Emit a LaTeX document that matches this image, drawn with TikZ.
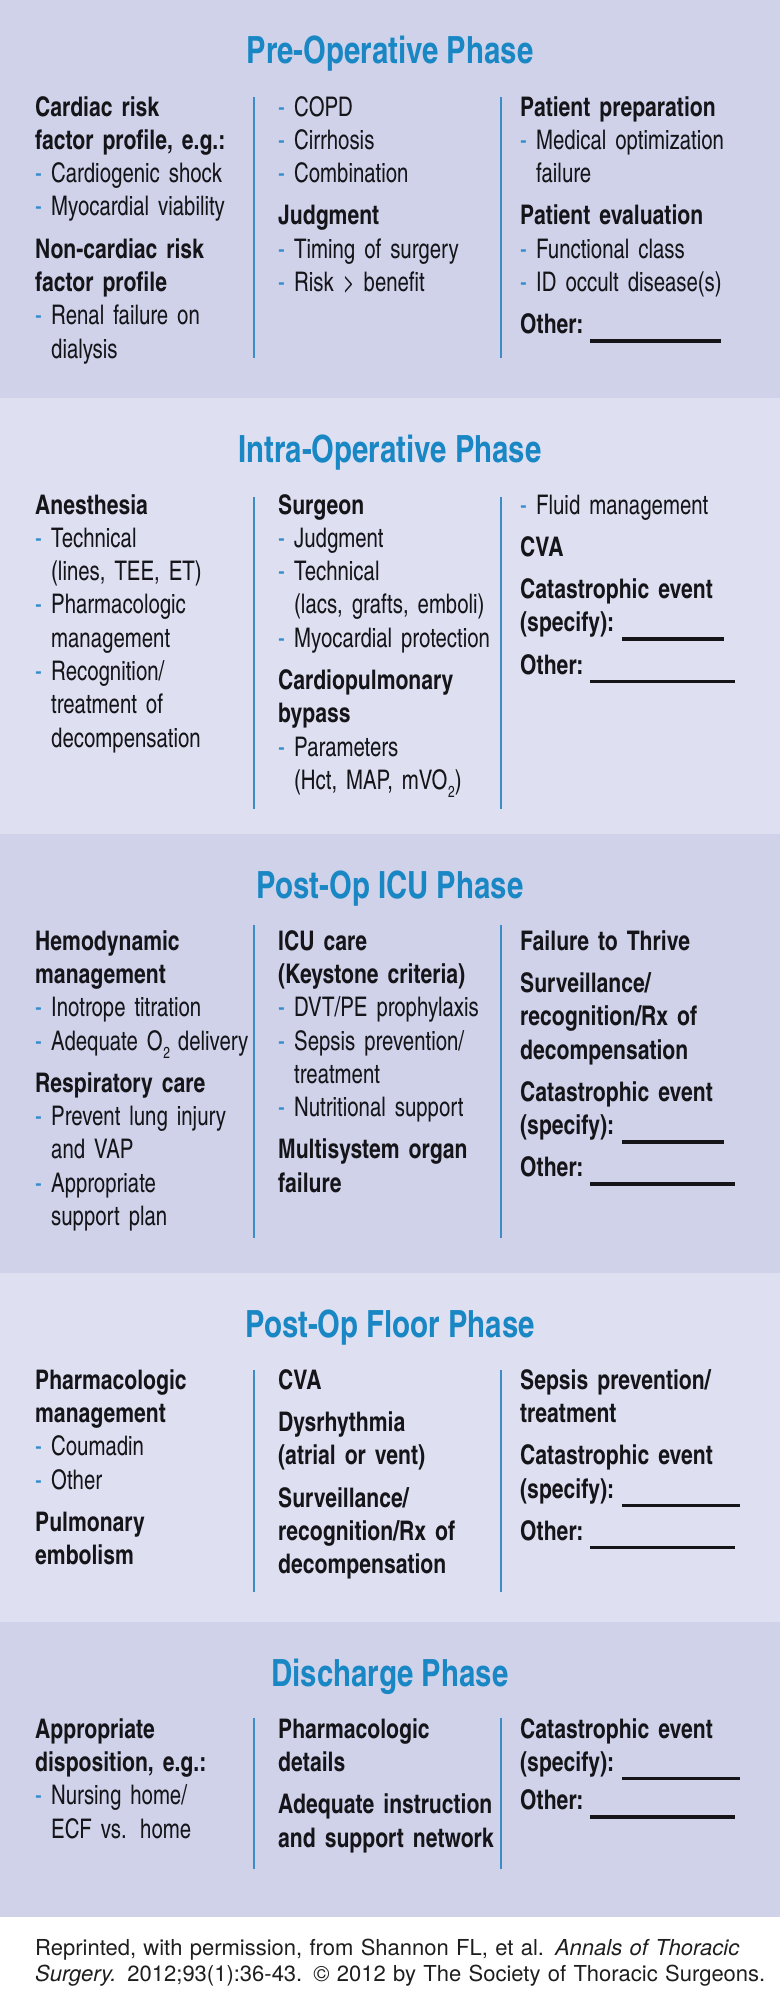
\documentclass[tikz,border=0pt]{standalone}
\usepackage{fontspec}
\usepackage{graphicx}
\setmainfont{texgyreheroscn}[Extension=.otf, UprightFont=*-regular, BoldFont=*-bold, ItalicFont=*-italic, BoldItalicFont=*-bolditalic, UprightFeatures={FakeStretch=0.92}, BoldFeatures={FakeStretch=0.955}]
\newfontfamily\footfont{texgyreheros}[Extension=.otf, UprightFont=*-regular, BoldFont=*-bold, ItalicFont=*-italic, BoldItalicFont=*-bolditalic]
\definecolor{bandA}{RGB}{207,210,233}
\definecolor{bandB}{RGB}{222,224,241}
\definecolor{ttlblue}{RGB}{26,135,197}
\definecolor{dashblue}{RGB}{50,140,205}
\definecolor{divblue}{RGB}{60,140,200}
\definecolor{bodytext}{RGB}{20,20,25}
\definecolor{foottext}{RGB}{30,30,30}
\newcommand\bodyfont{\fontsize{27}{33.33}\selectfont}
\newcommand\Hd[1]{\textbf{#1}\par}
\newcommand\It[1]{\makebox[16pt][l]{\textcolor{dashblue}{-}}#1\par}
\newcommand\Ct[1]{\hspace*{16pt}#1\par}
\newcommand\Gap[1][9pt]{\vspace{#1}}
\newcommand\Blank[3]{\textbf{\makebox[#1pt][l]{#2}}\rule[-9pt]{#3pt}{3.5pt}\par}
\newcommand\Sub[1]{\kern0.5pt\raisebox{-8pt}{\fontsize{16}{16}\selectfont #1}}
\tikzset{
  col/.style={anchor=base west, inner sep=0pt, text width=238pt, align=left, font=\bodyfont, text=bodytext},
  ttl/.style={anchor=base, inner sep=0pt, font=\fontsize{37.5}{40}\selectfont\bfseries, text=ttlblue},
  divider/.style={draw=divblue, line width=1.2pt},
}
\begin{document}
\begin{tikzpicture}[x=1pt,y=-1pt]
\useasboundingbox (0,0) rectangle (780,2000);
\fill[white] (0,0) rectangle (780,2000);
\fill[bandA] (0,0) rectangle (780,398);
\fill[bandB] (0,398) rectangle (780,834);
\fill[bandA] (0,834) rectangle (780,1273);
\fill[bandB] (0,1273) rectangle (780,1622);
\fill[bandA] (0,1622) rectangle (780,1917);

% ---------- Pre-Operative ----------
\node[ttl] (t1) at (390,63) {Pre-Operative Phase};
\node[col] (c11) at (35,116) {\bodyfont
\Hd{Cardiac risk}
\Hd{factor profile, e.g.:}
\It{Cardiogenic shock}
\It{Myocardial viability}
\Gap
\Hd{Non-cardiac risk}
\Hd{factor profile}
\It{Renal failure on}
\Ct{dialysis}};
\node[col] (c12) at (278,116) {\bodyfont
\It{COPD}
\It{Cirrhosis}
\It{Combination}
\Gap
\Hd{Judgment}
\It{Timing of surgery}
\It{Risk > benefit}};
\node[col] (c13) at (520,116) {\bodyfont
\Hd{Patient preparation}
\It{Medical optimization}
\Ct{failure}
\Gap
\Hd{Patient evaluation}
\It{Functional class}
\It{ID occult disease(s)}
\Gap
\Blank{70}{Other:}{131}};
\draw[divider] (254,97) -- (254,358);
\draw[divider] (501,97) -- (501,358);

% ---------- Intra-Operative ----------
\node[ttl] (t2) at (390,462) {Intra-Operative Phase};
\node[col] (c21) at (35,514) {\bodyfont
\Hd{Anesthesia}
\It{Technical}
\Ct{(lines, TEE, ET)}
\It{Pharmacologic}
\Ct{management}
\It{Recognition/}
\Ct{treatment of}
\Ct{decompensation}};
\node[col] (c22) at (278,514) {\bodyfont
\Hd{Surgeon}
\It{Judgment}
\It{Technical}
\Ct{(lacs, grafts, emboli)}
\It{Myocardial protection}
\Gap
\Hd{Cardiopulmonary}
\Hd{bypass}
\It{Parameters}
\Ct{(Hct, MAP, mVO\Sub{2})}};
\node[col] (c23) at (520,514) {\bodyfont
\It{Fluid management}
\Gap
\Hd{CVA}
\Gap
\Hd{Catastrophic event}
\Blank{102}{(specify):}{102}
\Gap
\Blank{70}{Other:}{145}};
\draw[divider] (254,497) -- (254,809);
\draw[divider] (501,497) -- (501,809);

% ---------- Post-Op ICU ----------
\node[ttl] (t3) at (390,898) {Post-Op ICU Phase};
\node[col] (c31) at (35,950) {\bodyfont
\Hd{Hemodynamic}
\Hd{management}
\It{Inotrope titration}
\It{Adequate O\Sub{2}\kern-1pt{} delivery}
\Gap
\Hd{Respiratory care}
\It{Prevent lung injury}
\Ct{and VAP}
\It{Appropriate}
\Ct{support plan}};
\node[col] (c32) at (278,950) {\bodyfont
\Hd{ICU care}
\Hd{(Keystone criteria)}
\It{DVT/PE prophylaxis}
\It{Sepsis prevention/}
\Ct{treatment}
\It{Nutritional support}
\Gap
\Hd{Multisystem organ}
\Hd{failure}};
\node[col] (c33) at (520,950) {\bodyfont
\Hd{Failure to Thrive}
\Gap
\Hd{Surveillance/}
\Hd{recognition/Rx of}
\Hd{decompensation}
\Gap
\Hd{Catastrophic event}
\Blank{102}{(specify):}{102}
\Gap
\Blank{70}{Other:}{145}};
\draw[divider] (254,925) -- (254,1238);
\draw[divider] (501,925) -- (501,1238);

% ---------- Post-Op Floor ----------
\node[ttl] (t4) at (390,1337) {Post-Op Floor Phase};
\node[col] (c41) at (35,1389) {\bodyfont
\Hd{Pharmacologic}
\Hd{management}
\It{Coumadin}
\It{Other}
\Gap
\Hd{Pulmonary}
\Hd{embolism}};
\node[col] (c42) at (278,1389) {\bodyfont
\Hd{CVA}
\Gap
\Hd{Dysrhythmia}
\Hd{(atrial or vent)}
\Gap
\Hd{Surveillance/}
\Hd{recognition/Rx of}
\Hd{decompensation}};
\node[col] (c43) at (520,1389) {\bodyfont
\Hd{Sepsis prevention/}
\Hd{treatment}
\Gap
\Hd{Catastrophic event}
\Blank{102}{(specify):}{118}
\Gap
\Blank{70}{Other:}{145}};
\draw[divider] (254,1370) -- (254,1592);
\draw[divider] (501,1370) -- (501,1592);

% ---------- Discharge ----------
\node[ttl] (t5) at (390,1686) {Discharge Phase};
\node[col] (c51) at (35,1738) {\bodyfont
\Hd{Appropriate}
\Hd{disposition, e.g.:}
\It{Nursing home/}
\Ct{ECF vs. home}};
\node[col] (c52) at (278,1738) {\bodyfont
\Hd{Pharmacologic}
\Hd{details}
\Gap
\Hd{Adequate instruction}
\Hd{and support network}};
\node[col] (c53) at (520,1738) {\bodyfont
\Hd{Catastrophic event}
\Blank{102}{(specify):}{118}
\Gap[5pt]
\Blank{70}{Other:}{145}};
\draw[divider] (254,1718) -- (254,1869);
\draw[divider] (501,1718) -- (501,1869);

% ---------- Footer ----------
\node[anchor=base west, inner sep=0pt, text width=745pt, align=left, text=foottext,
      font=\footfont\fontsize{22}{26}\selectfont] (foot) at (35,1955)
  {\footfont\fontsize{22}{26}\selectfont Reprinted, with permission, from Shannon FL, et al. \textit{Annals of Thoracic}\par
   \textit{Surgery.} 2012;93(1):36-43. © 2012 by The Society of Thoracic Surgeons.};
\end{tikzpicture}
\end{document}
